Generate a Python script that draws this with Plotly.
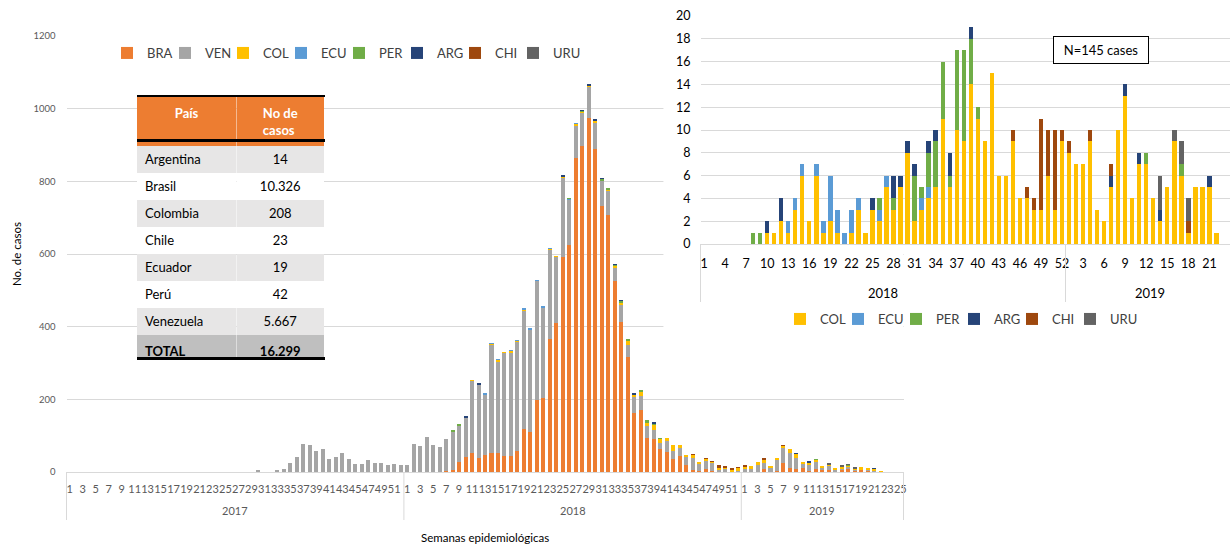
import plotly.graph_objects as go

W, H = 1230, 546

# ---------------- data ----------------
weeks_2017 = list(range(1, 53))
weeks_2018 = list(range(1, 53))
weeks_2019_main = list(range(1, 26))
weeks_2019_inset = list(range(1, 25))

# Main chart (all countries), cases per epidemiological week
bra_2017 = [0, 0, 0, 0, 0, 0, 0, 0, 0, 0, 0, 0, 0, 0, 0, 0, 0, 0, 0, 0, 0, 0, 0, 0, 0, 0,
            0, 0, 0, 0, 0, 0, 0, 0, 0, 0, 0, 0, 0, 0, 0, 0, 0, 0, 0, 0, 0, 0, 0, 0, 0, 0]
ven_2017 = [0, 0, 0, 0, 0, 0, 0, 0, 0, 0, 0, 0, 0, 0, 0, 0, 0, 0, 0, 0,
            0, 0, 0, 0, 0, 0, 0, 0, 0, 3, 0, 0, 5, 8, 24, 40, 77, 74, 58, 62,
            37, 40, 51, 36, 21, 22, 33, 25, 25, 19, 21, 19]
others_2017 = [0, 0, 0, 0, 0, 0, 0, 0, 0, 0, 0, 0, 0, 0, 0, 0, 0, 0, 0, 0, 0, 0, 0, 0, 0, 0,
               0, 0, 0, 0, 0, 0, 0, 0, 0, 0, 0, 0, 0, 0, 0, 0, 0, 0, 0, 0, 0, 0, 0, 0, 0, 0]

bra_2018 = [0, 0, 0, 0, 0, 0, 2, 6, 28, 41, 52, 38, 47, 53, 53, 45, 43, 59, 117, 111,
            199, 205, 365, 409, 592, 625, 863, 898, 975, 888, 733, 707, 527, 414, 316, 163, 172, 94, 92, 62,
            55, 35, 45, 18, 6, 3, 7, 4, 0, 0, 0, 0]
ven_2018 = [20, 77, 72, 97, 74, 69, 89, 106, 101, 109, 200, 202, 166, 298, 250, 283, 285, 301, 327, 280,
            328, 247, 247, 184, 219, 124, 91, 92, 85, 72, 68, 67, 36, 48, 34, 45, 37, 32, 24, 19,
            30, 24, 22, 23, 32, 21, 25, 21, 8, 7, 2, 2]
bra_2019 = [0, 0, 0, 9, 1, 3, 24, 12, 9, 12, 2, 7, 5, 5, 0, 6, 9, 2, 7, 5, 0, 0, 0, 0, 0]
ven_2019 = [8, 9, 20, 17, 12, 32, 43, 40, 29, 12, 18, 20, 7, 13, 6, 1, 4, 6, 1, 1, 4, 0, 0, 0, 0]

# Inset chart (other countries), 2018 weeks 1-52 and 2019 weeks 1-24
col_2018 = [0, 0, 0, 0, 0, 0, 0, 0, 0, 1, 1, 2, 1, 3, 6, 2, 6, 1, 2, 1,
            0, 1, 3, 1, 3, 2, 5, 3, 5, 8, 2, 3, 4, 5, 11, 5, 10, 9, 14, 11,
            9, 15, 6, 6, 9, 4, 4, 3, 3, 6, 3, 9]
ecu_2018 = [0, 0, 0, 0, 0, 0, 0, 0, 0, 0, 0, 0, 1, 1, 1, 0, 1, 1, 4, 2,
            1, 2, 1, 0, 0, 1, 1, 0, 0, 0, 0, 1, 1, 0, 0, 0, 0, 0, 0, 0,
            0, 0, 0, 0, 0, 0, 0, 0, 0, 0, 0, 0]
per_2018 = [0, 0, 0, 0, 0, 0, 0, 1, 1, 0, 0, 0, 0, 0, 0, 0, 0, 0, 0, 0,
            0, 0, 0, 0, 0, 1, 0, 1, 0, 0, 4, 1, 3, 4, 5, 1, 7, 8, 4, 1,
            0, 0, 0, 0, 0, 0, 0, 0, 0, 0, 0, 0]
arg_2018 = [0, 0, 0, 0, 0, 0, 0, 0, 0, 1, 0, 2, 0, 0, 0, 0, 0, 0, 0, 0,
            0, 0, 0, 0, 1, 0, 0, 2, 1, 1, 1, 0, 1, 1, 0, 2, 0, 0, 1, 0,
            0, 0, 0, 0, 0, 0, 0, 0, 0, 0, 0, 0]
chi_2018 = [0, 0, 0, 0, 0, 0, 0, 0, 0, 0, 0, 0, 0, 0, 0, 0, 0, 0, 0, 0,
            0, 0, 0, 0, 0, 0, 0, 0, 0, 0, 0, 0, 0, 0, 0, 0, 0, 0, 0, 0,
            0, 0, 0, 0, 1, 0, 1, 1, 8, 4, 7, 1]
uru_2018 = [0, 0, 0, 0, 0, 0, 0, 0, 0, 0, 0, 0, 0, 0, 0, 0, 0, 0, 0, 0,
            0, 0, 0, 0, 0, 0, 0, 0, 0, 0, 0, 0, 0, 0, 0, 0, 0, 0, 0, 0,
            0, 0, 0, 0, 0, 0, 0, 0, 0, 0, 0, 0]
col_2019 = [8, 7, 7, 9, 3, 2, 5, 10, 13, 4, 7, 7, 4, 2, 5, 9, 6, 1, 5, 5, 5, 1, 0, 0]
ecu_2019 = [0, 0, 0, 0, 0, 0, 0, 0, 0, 0, 0, 0, 0, 0, 0, 0, 0, 0, 0, 0, 0, 0, 0, 0]
per_2019 = [0, 0, 0, 0, 0, 0, 0, 0, 0, 0, 0, 1, 0, 0, 0, 0, 1, 0, 0, 0, 0, 0, 0, 0]
arg_2019 = [0, 0, 0, 0, 0, 0, 1, 0, 1, 0, 1, 0, 0, 1, 0, 0, 0, 0, 0, 0, 1, 0, 0, 0]
chi_2019 = [1, 0, 0, 1, 0, 0, 1, 0, 0, 0, 0, 0, 0, 0, 0, 0, 0, 1, 0, 0, 0, 0, 0, 0]
uru_2019 = [0, 0, 0, 0, 0, 0, 0, 0, 0, 0, 0, 0, 0, 3, 0, 1, 2, 2, 0, 0, 0, 0, 0, 0]
week25_2019 = [0]  # week 25 of 2019 only appears on the main chart

# Table
table_countries = ["Argentina", "Brasil", "Colombia", "Chile", "Ecuador", "Perú", "Venezuela", "TOTAL"]
table_cases = ["14", "10.326", "208", "23", "19", "42", "5.667", "16.299"]
table_header = ["País", "No de<br>casos"]
inset_note = "N=145 cases"

# ---------------- styling ----------------
FONT = "Lato, Carlito, Calibri, sans-serif"
COLORS = {"BRA": "#ED7D31", "VEN": "#A5A5A5", "COL": "#FFC000", "ECU": "#5B9BD5",
          "PER": "#70AD47", "ARG": "#264478", "CHI": "#9E480E", "URU": "#636363"}
GRID = "#D9D9D9"

main_groups = [(2017, weeks_2017), (2018, weeks_2018), (2019, weeks_2019_main)]
inset_groups = [(2018, weeks_2018), (2019, weeks_2019_inset)]
main_cats = [f"{y}-{w}" for y, ws in main_groups for w in ws]
inset_cats = [f"{y}-{w}" for y, ws in inset_groups for w in ws]

main_series = {
    "BRA": bra_2017 + bra_2018 + bra_2019,
    "VEN": ven_2017 + ven_2018 + ven_2019,
    "COL": others_2017 + col_2018 + col_2019 + week25_2019,
    "ECU": others_2017 + ecu_2018 + ecu_2019 + week25_2019,
    "PER": others_2017 + per_2018 + per_2019 + week25_2019,
    "ARG": others_2017 + arg_2018 + arg_2019 + week25_2019,
    "CHI": others_2017 + chi_2018 + chi_2019 + week25_2019,
    "URU": others_2017 + uru_2018 + uru_2019 + week25_2019,
}
inset_series = {
    "COL": col_2018 + col_2019, "ECU": ecu_2018 + ecu_2019, "PER": per_2018 + per_2019,
    "ARG": arg_2018 + arg_2019, "CHI": chi_2018 + chi_2019, "URU": uru_2018 + uru_2019,
}

# one single-entry legend per series, evenly spaced (px of first symbol centre, pitch)
MAIN_LEG_START, INSET_LEG_START, LEG_PITCH = 127, 800, 58
SYMBOL_OFFSET = 20  # plotly draws the symbol 20px in from the legend's left edge


def legend_box(px, ypx):
    return dict(x=(px - SYMBOL_OFFSET) / W, y=(H - ypx) / H, xanchor="left", yanchor="middle",
                orientation="h", bgcolor="rgba(0,0,0,0)",
                font=dict(family=FONT, size=13, color="#404040"))


fig = go.Figure()
legend_layouts = {}
k = 0
for i, (name, vals) in enumerate(main_series.items()):
    k += 1
    lid = "legend" if k == 1 else f"legend{k}"
    fig.add_trace(go.Bar(x=main_cats, y=vals, name=name, marker=dict(color=COLORS[name], line_width=0),
                         xaxis="x", yaxis="y", legend=lid, hoverinfo="x+y+name"))
    legend_layouts[lid] = legend_box(MAIN_LEG_START + LEG_PITCH * i, 53)
for j, (name, vals) in enumerate(inset_series.items()):
    k += 1
    lid = f"legend{k}"
    fig.add_trace(go.Bar(x=inset_cats, y=vals, name=name, marker=dict(color=COLORS[name], line_width=0),
                         xaxis="x2", yaxis="y2", legend=lid, hoverinfo="x+y+name"))
    legend_layouts[lid] = legend_box(INSET_LEG_START + LEG_PITCH * j, 319)

# table
row_fill = ["#E7E6E6" if i % 2 == 0 else "white" for i in range(len(table_countries) - 1)] + ["#BFBFBF"]
cell_countries = table_countries[:-1] + [f"<b>{table_countries[-1]}</b>"]
cell_cases = table_cases[:-1] + [f"<b>{table_cases[-1]}</b>"]
fig.add_trace(go.Table(
    domain=dict(x=[137 / W, 325 / W], y=[(H - 361) / H, (H - 97) / H]),
    columnwidth=[100, 88],
    header=dict(values=[f"<b>{h}</b>" for h in table_header], fill_color="#ED7D31",
                font=dict(family=FONT, size=13, color="white"), align="center", height=44,
                line=dict(width=0, color="#ED7D31")),
    cells=dict(values=[cell_countries, cell_cases], fill_color=[row_fill, row_fill],
               font=dict(family=FONT, size=13, color="black"), align=["left", "center"], height=27,
               line=dict(width=0, color="white")),
))

main_ticks = [f"{y}-{w}" for y, ws in main_groups for w in ws if w % 2 == 1]
main_ticktext = [str(w) for y, ws in main_groups for w in ws if w % 2 == 1]
inset_ticks = inset_cats[::3]
inset_ticktext = [c.split("-")[1] for c in inset_ticks]

fig.update_layout(
    width=W, height=H, margin=dict(l=0, r=0, t=0, b=0), autosize=False,
    paper_bgcolor="white", plot_bgcolor="white",
    barmode="stack", bargap=0.38, showlegend=True,
    xaxis=dict(domain=[66.5 / W, 903.5 / W], anchor="y", type="category", categoryorder="array",
               categoryarray=main_cats, range=[-0.5, len(main_cats) - 0.5],
               tickmode="array", tickvals=main_ticks, ticktext=main_ticktext, ticks="",
               tickangle=0, tickfont=dict(family=FONT, size=11, color="#595959"),
               showgrid=False, showline=True, linecolor=GRID, linewidth=1, zeroline=False,
               automargin=False, ticklabelstandoff=7),
    yaxis=dict(domain=[(H - 472) / H, (H - 36) / H], anchor="x", range=[0, 1200], dtick=200,
               tickfont=dict(family=FONT, size=9.5, color="#595959"), gridcolor=GRID, gridwidth=1,
               showline=False, zeroline=False, ticks="", automargin=False, ticklabelstandoff=10),
    xaxis2=dict(domain=[700.5 / W, 1.0], anchor="y2", type="category", categoryorder="array",
                categoryarray=inset_cats, range=[-0.5, 74.93],
                tickmode="array", tickvals=inset_ticks, ticktext=inset_ticktext, ticks="",
                tickangle=0, tickfont=dict(family=FONT, size=12.5, color="black"),
                showgrid=False, showline=True, linecolor=GRID, linewidth=1, zeroline=False,
                automargin=False, ticklabelstandoff=8),
    yaxis2=dict(domain=[(H - 244) / H, (H - 16) / H], anchor="x2", range=[0, 20], dtick=2,
                tickfont=dict(family=FONT, size=12.5, color="black"), gridcolor=GRID, gridwidth=1,
                showline=False, zeroline=False, ticks="", automargin=False, ticklabelstandoff=9),
    **legend_layouts,
)

shapes = []
annotations = []
# white cover hiding the main gridlines behind the inset
shapes.append(dict(type="rect", xref="x", yref="y", x0=91.5, x1=len(main_cats), y0=362, y1=1250,
                   fillcolor="white", line=dict(width=0), layer="between"))
# multi-level category dividers + year labels (main)
start = 0
for xd in (0, 1):
    shapes.append(dict(type="line", xref="x domain", yref="paper", x0=xd, x1=xd,
                       y0=(H - 472) / H, y1=(H - 520) / H, line=dict(color=GRID, width=1)))
for idx, (y, ws) in enumerate(main_groups):
    annotations.append(dict(xref="x", yref="paper", x=start + (len(ws) - 1) / 2, y=(H - 510) / H,
                            xanchor="center", yanchor="middle",
                            text=str(y), showarrow=False, font=dict(family=FONT, size=11, color="#595959")))
    start += len(ws)
    if idx < len(main_groups) - 1:
        shapes.append(dict(type="line", xref="x", yref="paper", x0=start - 0.5, x1=start - 0.5,
                           y0=(H - 472) / H, y1=(H - 520) / H, line=dict(color=GRID, width=1)))
# inset dividers + year labels
start = 0
shapes.append(dict(type="line", xref="x2 domain", yref="paper", x0=0, x1=0, y0=(H - 244) / H, y1=(H - 302) / H,
                   line=dict(color=GRID, width=1)))
for idx, (y, ws) in enumerate(inset_groups):
    annotations.append(dict(xref="x2", yref="paper", x=start + (len(ws) - 1) / 2, y=(H - 293) / H,
                            xanchor="center", yanchor="middle",
                            text=str(y), showarrow=False, font=dict(family=FONT, size=13, color="black")))
    start += len(ws)
    if idx < len(inset_groups) - 1:
        shapes.append(dict(type="line", xref="x2", yref="paper", x0=start - 0.5, x1=start - 0.5,
                           y0=(H - 244) / H, y1=(H - 302) / H, line=dict(color=GRID, width=1)))

# axis titles
annotations.append(dict(xref="paper", yref="paper", x=485 / W, y=(H - 537.5) / H, text="Semanas epidemiológicas",
                        xanchor="center", yanchor="middle",
                        showarrow=False, font=dict(family=FONT, size=11.5, color="black")))
annotations.append(dict(xref="paper", yref="paper", x=16 / W, y=(H - 254) / H, text="No. de casos",
                        xanchor="center", yanchor="middle",
                        textangle=-90, showarrow=False, font=dict(family=FONT, size=11.5, color="black")))
# N note
annotations.append(dict(xref="paper", yref="paper", x=1100.5 / W, y=(H - 49.5) / H, text=inset_note,
                        xanchor="center", yanchor="middle",
                        showarrow=False, width=92, height=24, bgcolor="white", bordercolor="black",
                        borderwidth=1, borderpad=1, font=dict(family=FONT, size=13, color="black")))
# thick black rules of the table
for ypx, thick in [(96, 2), (141, 2.5), (358.5, 2.5)]:
    annotations.append(dict(xref="paper", yref="paper", x=231 / W, y=(H - ypx) / H, text=" ",
                            xanchor="center", yanchor="middle",
                            showarrow=False, width=188, height=thick, bgcolor="black", borderpad=0,
                            borderwidth=0, font=dict(size=1)))

fig.update_layout(shapes=shapes, annotations=annotations)
fig.write_html("out.html", config={"displayModeBar": False},
               post_script="document.body.style.margin='0px';")
